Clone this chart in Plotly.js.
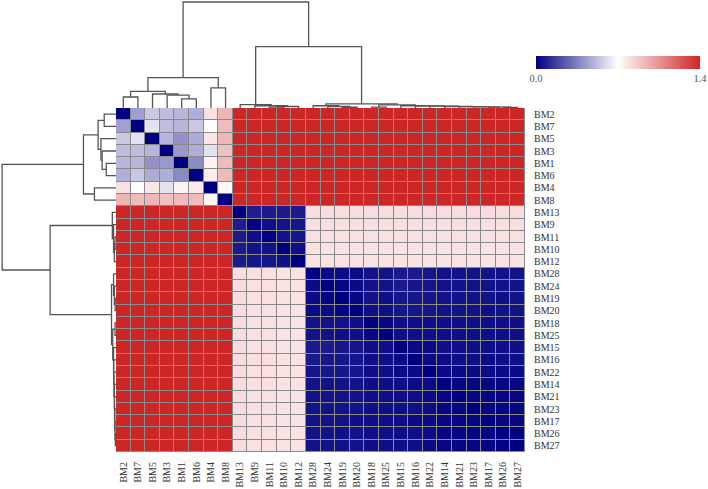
<!DOCTYPE html>
<html>
<head>
<meta charset="utf-8">
<script src="https://cdn.plot.ly/plotly-3.0.1.min.js"></script>
<style>
  html, body { margin: 0; padding: 0; background: #fff; }
  #chart { width: 708px; height: 489px; }
</style>
</head>
<body>
<div id="chart"></div>
<script>
// Sample order (rows and columns share the clustered order)
const samples = [
  "BM2", "BM7", "BM5", "BM3", "BM1", "BM6", "BM4", "BM8",
  "BM13", "BM9", "BM11", "BM10", "BM12",
  "BM28", "BM24", "BM19", "BM20", "BM18", "BM25", "BM15", "BM16",
  "BM22", "BM14", "BM21", "BM23", "BM17", "BM26", "BM27"
];

// Pairwise distance matrix, rows/cols in the order above
const distances = [
  [0.00,0.44,0.55,0.52,0.50,0.48,0.80,0.94, 1.40,1.40,1.40,1.40,1.40, 1.40,1.40,1.40,1.40,1.40,1.40,1.40,1.40,1.40,1.40,1.40,1.40,1.40,1.40,1.40],
  [0.44,0.00,0.62,0.52,0.50,0.55,0.70,0.92, 1.40,1.40,1.40,1.40,1.40, 1.40,1.40,1.40,1.40,1.40,1.40,1.40,1.40,1.40,1.40,1.40,1.40,1.40,1.40,1.40],
  [0.55,0.62,0.00,0.50,0.40,0.47,0.78,0.93, 1.40,1.40,1.40,1.40,1.40, 1.40,1.40,1.40,1.40,1.40,1.40,1.40,1.40,1.40,1.40,1.40,1.40,1.40,1.40,1.40],
  [0.52,0.52,0.50,0.00,0.42,0.48,0.62,0.90, 1.40,1.40,1.40,1.40,1.40, 1.40,1.40,1.40,1.40,1.40,1.40,1.40,1.40,1.40,1.40,1.40,1.40,1.40,1.40,1.40],
  [0.50,0.50,0.40,0.42,0.00,0.38,0.74,0.92, 1.40,1.40,1.40,1.40,1.40, 1.40,1.40,1.40,1.40,1.40,1.40,1.40,1.40,1.40,1.40,1.40,1.40,1.40,1.40,1.40],
  [0.48,0.55,0.47,0.48,0.38,0.00,0.76,0.92, 1.40,1.40,1.40,1.40,1.40, 1.40,1.40,1.40,1.40,1.40,1.40,1.40,1.40,1.40,1.40,1.40,1.40,1.40,1.40,1.40],
  [0.80,0.70,0.78,0.62,0.74,0.76,0.00,0.72, 1.40,1.40,1.40,1.40,1.40, 1.40,1.40,1.40,1.40,1.40,1.40,1.40,1.40,1.40,1.40,1.40,1.40,1.40,1.40,1.40],
  [0.94,0.92,0.93,0.90,0.92,0.92,0.72,0.00, 1.40,1.40,1.40,1.40,1.40, 1.40,1.40,1.40,1.40,1.40,1.40,1.40,1.40,1.40,1.40,1.40,1.40,1.40,1.40,1.40],
  [1.40,1.40,1.40,1.40,1.40,1.40,1.40,1.40, 0.00,0.08,0.07,0.07,0.07, 0.81,0.81,0.81,0.81,0.81,0.81,0.81,0.81,0.81,0.81,0.81,0.81,0.81,0.81,0.81],
  [1.40,1.40,1.40,1.40,1.40,1.40,1.40,1.40, 0.08,0.00,0.04,0.05,0.06, 0.80,0.80,0.80,0.80,0.80,0.80,0.80,0.80,0.80,0.80,0.80,0.80,0.80,0.80,0.80],
  [1.40,1.40,1.40,1.40,1.40,1.40,1.40,1.40, 0.07,0.04,0.00,0.05,0.06, 0.80,0.80,0.80,0.80,0.80,0.80,0.80,0.80,0.80,0.80,0.80,0.80,0.80,0.80,0.80],
  [1.40,1.40,1.40,1.40,1.40,1.40,1.40,1.40, 0.07,0.05,0.05,0.00,0.04, 0.79,0.79,0.79,0.79,0.79,0.79,0.79,0.79,0.79,0.79,0.79,0.79,0.79,0.79,0.79],
  [1.40,1.40,1.40,1.40,1.40,1.40,1.40,1.40, 0.07,0.06,0.06,0.04,0.00, 0.79,0.79,0.79,0.79,0.79,0.79,0.79,0.79,0.79,0.79,0.79,0.79,0.79,0.79,0.79],
  [1.40,1.40,1.40,1.40,1.40,1.40,1.40,1.40, 0.81,0.80,0.80,0.79,0.79, 0.00,0.03,0.03,0.03,0.05,0.05,0.07,0.07,0.06,0.05,0.05,0.05,0.05,0.05,0.05],
  [1.40,1.40,1.40,1.40,1.40,1.40,1.40,1.40, 0.81,0.80,0.80,0.79,0.79, 0.03,0.00,0.02,0.03,0.05,0.05,0.07,0.06,0.06,0.05,0.05,0.05,0.05,0.05,0.05],
  [1.40,1.40,1.40,1.40,1.40,1.40,1.40,1.40, 0.81,0.80,0.80,0.79,0.79, 0.03,0.02,0.00,0.02,0.05,0.04,0.06,0.06,0.06,0.05,0.05,0.05,0.05,0.04,0.05],
  [1.40,1.40,1.40,1.40,1.40,1.40,1.40,1.40, 0.81,0.80,0.80,0.79,0.79, 0.03,0.03,0.02,0.00,0.04,0.04,0.06,0.06,0.06,0.05,0.05,0.05,0.04,0.05,0.05],
  [1.40,1.40,1.40,1.40,1.40,1.40,1.40,1.40, 0.81,0.80,0.80,0.79,0.79, 0.05,0.05,0.05,0.04,0.00,0.02,0.04,0.04,0.04,0.04,0.04,0.04,0.04,0.04,0.04],
  [1.40,1.40,1.40,1.40,1.40,1.40,1.40,1.40, 0.81,0.80,0.80,0.79,0.79, 0.05,0.05,0.04,0.04,0.02,0.00,0.04,0.04,0.04,0.04,0.04,0.04,0.04,0.04,0.04],
  [1.40,1.40,1.40,1.40,1.40,1.40,1.40,1.40, 0.81,0.80,0.80,0.79,0.79, 0.07,0.07,0.06,0.06,0.04,0.04,0.00,0.03,0.03,0.04,0.04,0.04,0.04,0.04,0.04],
  [1.40,1.40,1.40,1.40,1.40,1.40,1.40,1.40, 0.81,0.80,0.80,0.79,0.79, 0.07,0.06,0.06,0.06,0.04,0.04,0.03,0.00,0.03,0.03,0.04,0.04,0.03,0.04,0.04],
  [1.40,1.40,1.40,1.40,1.40,1.40,1.40,1.40, 0.81,0.80,0.80,0.79,0.79, 0.06,0.06,0.06,0.06,0.04,0.04,0.03,0.03,0.00,0.03,0.03,0.03,0.03,0.03,0.03],
  [1.40,1.40,1.40,1.40,1.40,1.40,1.40,1.40, 0.81,0.80,0.80,0.79,0.79, 0.05,0.05,0.05,0.05,0.04,0.04,0.04,0.03,0.03,0.00,0.02,0.02,0.02,0.02,0.02],
  [1.40,1.40,1.40,1.40,1.40,1.40,1.40,1.40, 0.81,0.80,0.80,0.79,0.79, 0.05,0.05,0.05,0.05,0.04,0.04,0.04,0.04,0.03,0.02,0.00,0.02,0.02,0.02,0.02],
  [1.40,1.40,1.40,1.40,1.40,1.40,1.40,1.40, 0.81,0.80,0.80,0.79,0.79, 0.05,0.05,0.05,0.05,0.04,0.04,0.04,0.04,0.03,0.02,0.02,0.00,0.02,0.02,0.02],
  [1.40,1.40,1.40,1.40,1.40,1.40,1.40,1.40, 0.81,0.80,0.80,0.79,0.79, 0.05,0.05,0.05,0.04,0.04,0.04,0.04,0.03,0.03,0.02,0.02,0.02,0.00,0.02,0.02],
  [1.40,1.40,1.40,1.40,1.40,1.40,1.40,1.40, 0.81,0.80,0.80,0.79,0.79, 0.05,0.05,0.04,0.05,0.04,0.04,0.04,0.04,0.03,0.02,0.02,0.02,0.02,0.00,0.01],
  [1.40,1.40,1.40,1.40,1.40,1.40,1.40,1.40, 0.81,0.80,0.80,0.79,0.79, 0.05,0.05,0.05,0.05,0.04,0.04,0.04,0.04,0.03,0.02,0.02,0.02,0.02,0.01,0.00]
];

// Hierarchical merges: [left, right, height]; a number refers to an earlier merge
const treeMerges = [
  ["BM1", "BM6", 0.12],     // 0
  ["BM3", 0, 0.17],         // 1
  ["BM5", 1, 0.185],        // 2
  ["BM2", "BM7", 0.145],    // 3
  [3, 2, 0.22],             // 4
  ["BM4", "BM8", 0.265],    // 5
  [4, 5, 0.40],             // 6
  ["BM11", "BM10", 0.012],  // 7
  [7, "BM12", 0.02],        // 8
  ["BM9", 8, 0.03],         // 9
  ["BM13", 9, 0.045],       // 10
  ["BM19", "BM20", 0.01],   // 11
  ["BM24", 11, 0.02],       // 12
  ["BM28", 12, 0.03],       // 13
  ["BM18", "BM25", 0.012],  // 14
  ["BM26", "BM27", 0.008],  // 15
  ["BM17", 15, 0.012],      // 16
  ["BM23", 16, 0.015],      // 17
  ["BM21", 17, 0.018],      // 18
  ["BM14", 18, 0.02],       // 19
  ["BM22", 19, 0.025],      // 20
  ["BM16", 20, 0.028],      // 21
  ["BM15", 21, 0.03],       // 22
  [14, 22, 0.04],           // 23
  [13, 23, 0.055],          // 24
  [10, 24, 0.81],           // 25
  [6, 25, 1.40]             // 26
];

const colorbarTicks = [0, 1.4];
const colorbarTickText = ["0.0", "1.4"];

// ---- dendrogram geometry: leaf axis position + merge height ----
const leafIndex = {};
samples.forEach((s, i) => { leafIndex[s] = i; });

function dendrogramPath(merges) {
  const centre = [], height = [];
  const along = [], up = [];
  merges.forEach(([l, r, h], k) => {
    const pl = typeof l === "number" ? centre[l] : leafIndex[l];
    const hl = typeof l === "number" ? height[l] : 0;
    const pr = typeof r === "number" ? centre[r] : leafIndex[r];
    const hr = typeof r === "number" ? height[r] : 0;
    along.push(pl, pl, pr, pr, null);
    up.push(hl, h, h, hr, null);
    centre[k] = (pl + pr) / 2;
    height[k] = h;
  });
  return { along, up };
}
const tree = dendrogramPath(treeMerges);

// ---- page geometry (pixels → paper fractions) ----
const W = 708, H = 489;
const hm = { left: 116, right: 525, top: 108, bottom: 452 };
const fx = px => px / W;
const fy = py => 1 - py / H;

const serif = "Liberation Serif, Times New Roman, serif";
const lineStyle = { color: "#555555", width: 1.3 };
const treeTop = 1.42;
const labelFont = { family: serif, size: 10, color: "#333333" };

const heat = {
  type: "heatmap",
  z: distances,
  x: samples,
  y: samples,
  zmin: 0,
  zmax: 1.4,
  xgap: 1,
  ygap: 1,
  colorscale: [[0, "#000080"], [0.5, "#ffffff"], [1, "#cd2626"]],
  hoverinfo: "x+y+z",
  colorbar: {
    orientation: "h",
    x: fx(536), xanchor: "left",
    y: fy(56), yanchor: "top",
    len: 164, lenmode: "pixels",
    thickness: 13, thicknessmode: "pixels",
    xpad: 0, ypad: 0,
    outlinewidth: 0,
    tickvals: colorbarTicks,
    ticktext: colorbarTickText,
    ticks: "",
    tickfont: { family: serif, size: 10.5, color: "#555555" }
  }
};

const topTree = {
  type: "scatter", mode: "lines",
  x: tree.along, y: tree.up,
  xaxis: "x2", yaxis: "y2",
  line: lineStyle, hoverinfo: "skip", showlegend: false
};

const sideTree = {
  type: "scatter", mode: "lines",
  x: tree.up, y: tree.along,
  xaxis: "x3", yaxis: "y3",
  line: lineStyle, hoverinfo: "skip", showlegend: false
};

const bare = {
  showgrid: false, zeroline: false, showline: false,
  showticklabels: false, ticks: "", fixedrange: true
};

const layout = {
  width: W, height: H,
  margin: { l: 0, r: 0, t: 0, b: 0, pad: 0 },
  paper_bgcolor: "#ffffff",
  plot_bgcolor: "rgba(0,0,0,0)",
  showlegend: false,
  xaxis: {
    domain: [fx(hm.left), fx(hm.right)],
    range: [-0.5, samples.length - 0.5],
    type: "category",
    tickmode: "array",
    tickvals: samples,
    ticktext: samples,
    tickangle: -90,
    ticks: "",
    ticklabelstandoff: 7,
    tickfont: labelFont,
    showgrid: false, zeroline: false, showline: false,
    anchor: "y"
  },
  yaxis: {
    domain: [fy(hm.bottom), fy(hm.top)],
    range: [samples.length - 0.5, -0.5],
    type: "category",
    tickmode: "array",
    tickvals: samples,
    ticktext: samples,
    side: "right",
    ticks: "",
    ticklabelstandoff: 8,
    tickfont: labelFont,
    showgrid: false, zeroline: false, showline: false,
    anchor: "x"
  },
  xaxis2: Object.assign({}, bare, {
    domain: [fx(hm.left), fx(hm.right)],
    range: [-0.5, samples.length - 0.5],
    anchor: "y2"
  }),
  yaxis2: Object.assign({}, bare, {
    domain: [fy(hm.top), fy(0.5)],
    range: [0, treeTop],
    anchor: "x2"
  }),
  xaxis3: Object.assign({}, bare, {
    domain: [fx(0.5), fx(hm.left)],
    range: [treeTop, 0],
    anchor: "y3"
  }),
  yaxis3: Object.assign({}, bare, {
    domain: [fy(hm.bottom), fy(hm.top)],
    range: [samples.length - 0.5, -0.5],
    anchor: "x3"
  }),
  shapes: [{
    type: "rect", xref: "x domain", yref: "y domain",
    x0: 0, x1: 1, y0: 0, y1: 1,
    fillcolor: "#8a8a8a", line: { width: 0 }, layer: "below"
  }]
};

Plotly.newPlot("chart", [heat, topTree, sideTree], layout, { displayModeBar: false, staticPlot: true });
</script>
</body>
</html>
